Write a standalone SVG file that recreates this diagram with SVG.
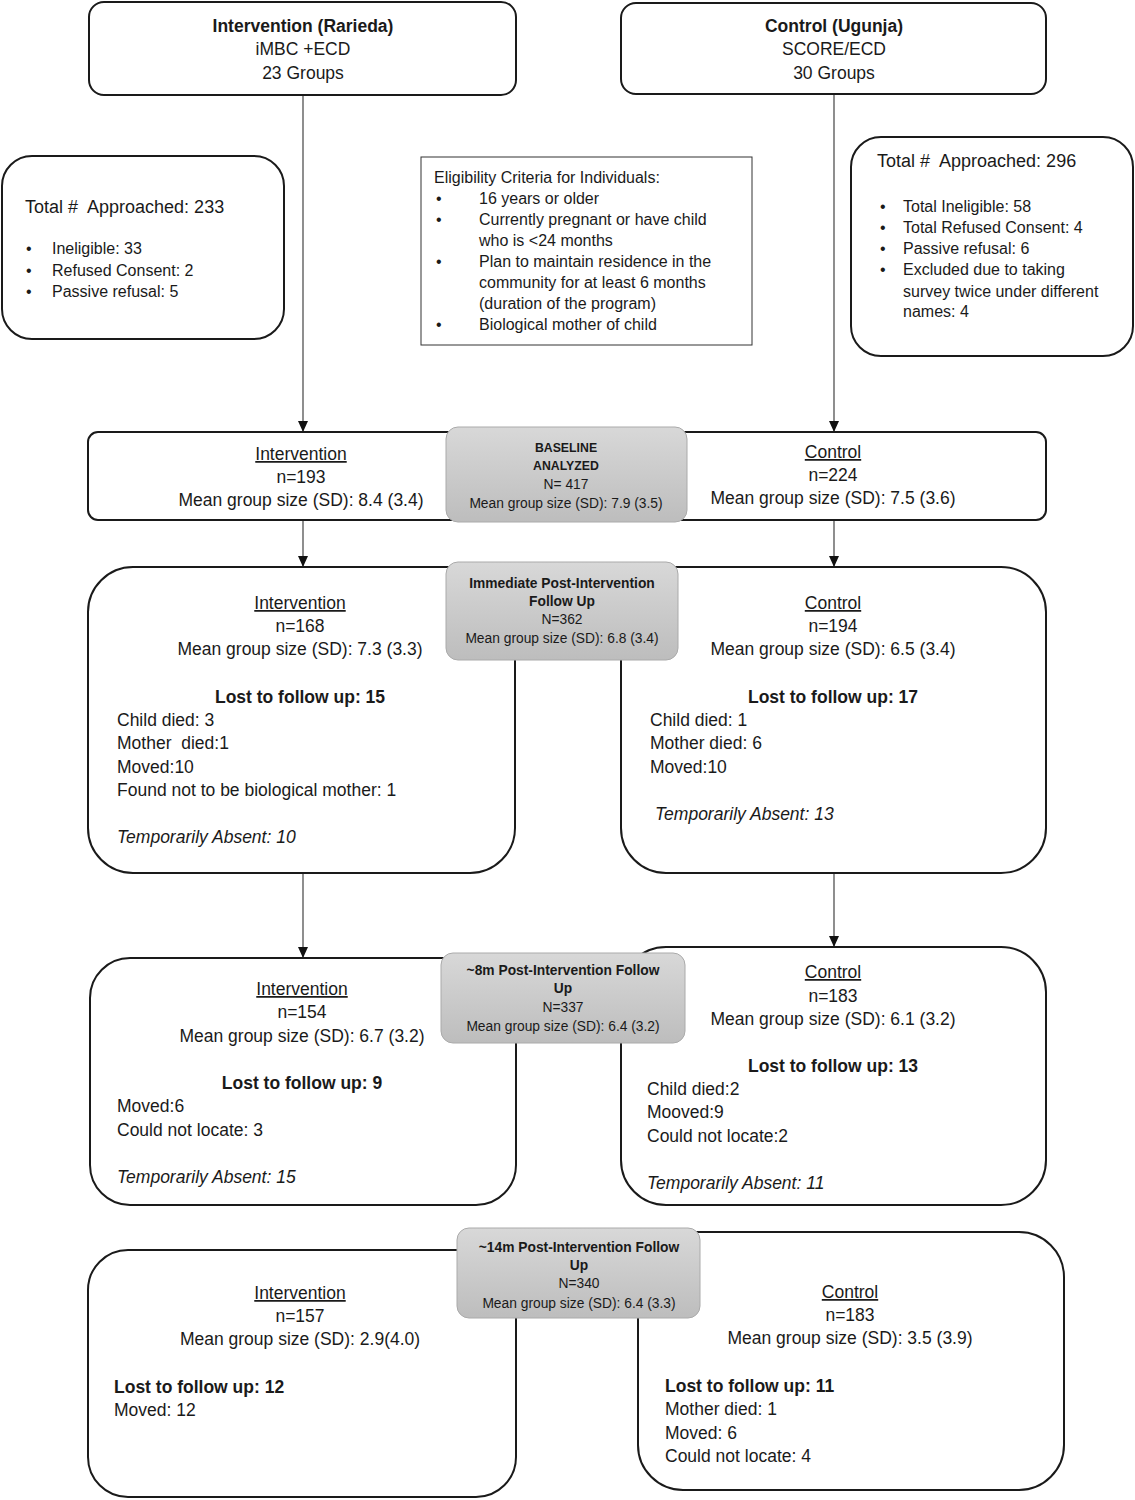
<svg xmlns="http://www.w3.org/2000/svg" width="1135" height="1500" viewBox="0 0 1135 1500">
<style>
text{font-family:"Liberation Sans",Arial,sans-serif;fill:#1a1a1a}
.box{fill:#fff;stroke:#1a1a1a;stroke-width:2}
.sq{fill:#fff;stroke:#333;stroke-width:1}
.gray{fill:url(#gg);stroke:#aaa;stroke-width:1}
.t{font-size:17.5px}
.h{font-size:18px}
.c{text-anchor:middle}
.b{font-weight:bold}
.i{font-style:italic}
.u{text-decoration:underline}
.e{font-size:16px}
.g{font-size:13.8px;text-anchor:middle}
.conn line{stroke:#444;stroke-width:1.2}
</style>
<defs>
<linearGradient id="gg" x1="0" y1="0" x2="0" y2="1">
<stop offset="0" stop-color="#d8d8d8"/>
<stop offset="1" stop-color="#bdbdbd"/>
</linearGradient>
<marker id="ad" markerWidth="10" markerHeight="11" refX="5" refY="11" markerUnits="userSpaceOnUse" viewBox="0 0 10 11">
<path d="M0,0 L10,0 L5,11 Z" fill="#111"/>
</marker>
</defs>

<g class="conn">
<line x1="303" y1="95" x2="303" y2="432" marker-end="url(#ad)"/>
<line x1="834" y1="94" x2="834" y2="432" marker-end="url(#ad)"/>
<line x1="303" y1="520" x2="303" y2="567" marker-end="url(#ad)"/>
<line x1="834" y1="520" x2="834" y2="567" marker-end="url(#ad)"/>
<line x1="303" y1="873" x2="303" y2="958" marker-end="url(#ad)"/>
<line x1="834" y1="873" x2="834" y2="947" marker-end="url(#ad)"/>
</g>

<g id="top-intervention">
<rect class="box" x="89" y="2" width="427" height="93" rx="15"/>
<text class="t c b" x="303" y="32">Intervention (Rarieda)</text>
<text class="t c" x="303" y="55">iMBC +ECD</text>
<text class="t c" x="303" y="79">23 Groups</text>
</g>

<g id="top-control">
<rect class="box" x="621" y="3" width="425" height="91" rx="15"/>
<text class="t c b" x="834" y="32">Control (Ugunja)</text>
<text class="t c" x="834" y="55">SCORE/ECD</text>
<text class="t c" x="834" y="79">30 Groups</text>
</g>

<g id="approached-left">
<rect class="box" x="2" y="156" width="282" height="183" rx="30"/>
<text class="h" x="25" y="213">Total #&#160; Approached: 233</text>
<text class="e" x="26" y="254">•</text><text class="e" x="52" y="254">Ineligible: 33</text>
<text class="e" x="26" y="276">•</text><text class="e" x="52" y="276">Refused Consent: 2</text>
<text class="e" x="26" y="297">•</text><text class="e" x="52" y="297">Passive refusal: 5</text>
</g>

<g id="eligibility">
<rect class="sq" x="421" y="157" width="331" height="188"/>
<text class="e" x="434" y="183">Eligibility Criteria for Individuals:</text>
<text class="e" x="436" y="204">•</text><text class="e" x="479" y="204">16 years or older</text>
<text class="e" x="436" y="225">•</text><text class="e" x="479" y="225">Currently pregnant or have child</text>
<text class="e" x="479" y="246">who is &lt;24 months</text>
<text class="e" x="436" y="267">•</text><text class="e" x="479" y="267">Plan to maintain residence in the</text>
<text class="e" x="479" y="288">community for at least 6 months</text>
<text class="e" x="479" y="309">(duration of the program)</text>
<text class="e" x="436" y="330">•</text><text class="e" x="479" y="330">Biological mother of child</text>
</g>

<g id="approached-right">
<rect class="box" x="851" y="137" width="282" height="219" rx="30"/>
<text class="h" x="877" y="167">Total #&#160; Approached: 296</text>
<text class="e" x="880" y="212">•</text><text class="e" x="903" y="212">Total Ineligible: 58</text>
<text class="e" x="880" y="233">•</text><text class="e" x="903" y="233">Total Refused Consent: 4</text>
<text class="e" x="880" y="254">•</text><text class="e" x="903" y="254">Passive refusal: 6</text>
<text class="e" x="880" y="275">•</text><text class="e" x="903" y="275">Excluded due to taking</text>
<text class="e" x="903" y="297">survey twice under different</text>
<text class="e" x="903" y="317">names: 4</text>
</g>

<g id="baseline-intervention">
<rect class="box" x="88" y="432" width="400" height="88" rx="10"/>
<text class="t c u" x="301" y="460">Intervention</text>
<text class="t c" x="301" y="483">n=193</text>
<text class="t c" x="301" y="506">Mean group size (SD): 8.4 (3.4)</text>
</g>
<g id="baseline-control">
<rect class="box" x="640" y="432" width="406" height="88" rx="10"/>
<text class="t c u" x="833" y="458">Control</text>
<text class="t c" x="833" y="481">n=224</text>
<text class="t c" x="833" y="504">Mean group size (SD): 7.5 (3.6)</text>
</g>
<g id="baseline-analyzed">
<rect class="gray" x="446" y="427" width="241" height="95" rx="12"/>
<text class="g b" x="566" y="452" style="font-size:12.3px">BASELINE</text>
<text class="g b" x="566" y="470" style="font-size:12.3px">ANALYZED</text>
<text class="g" x="566" y="489">N= 417</text>
<text class="g" x="566" y="508">Mean group size (SD): 7.9 (3.5)</text>
</g>

<g id="immediate-intervention">
<rect class="box" x="88" y="567" width="427" height="306" rx="45"/>
<text class="t c u" x="300" y="609">Intervention</text>
<text class="t c" x="300" y="632">n=168</text>
<text class="t c" x="300" y="655">Mean group size (SD): 7.3 (3.3)</text>
<text class="t c b" x="300" y="703">Lost to follow up: 15</text>
<text class="t" x="117" y="726">Child died: 3</text>
<text class="t" x="117" y="749">Mother&#160; died:1</text>
<text class="t" x="117" y="773">Moved:10</text>
<text class="t" x="117" y="796">Found not to be biological mother: 1</text>
<text class="t i" x="117" y="843">Temporarily Absent: 10</text>
</g>
<g id="immediate-control">
<rect class="box" x="621" y="567" width="425" height="306" rx="45"/>
<text class="t c u" x="833" y="609">Control</text>
<text class="t c" x="833" y="632">n=194</text>
<text class="t c" x="833" y="655">Mean group size (SD): 6.5 (3.4)</text>
<text class="t c b" x="833" y="703">Lost to follow up: 17</text>
<text class="t" x="650" y="726">Child died: 1</text>
<text class="t" x="650" y="749">Mother died: 6</text>
<text class="t" x="650" y="773">Moved:10</text>
<text class="t i" x="655" y="820">Temporarily Absent: 13</text>
</g>
<g id="immediate-followup">
<rect class="gray" x="446" y="562" width="232" height="98" rx="12"/>
<text class="g b" x="562" y="588">Immediate Post-Intervention</text>
<text class="g b" x="562" y="606">Follow Up</text>
<text class="g" x="562" y="624">N=362</text>
<text class="g" x="562" y="643">Mean group size (SD): 6.8 (3.4)</text>
</g>

<g id="m8-intervention">
<rect class="box" x="90" y="958" width="426" height="247" rx="40"/>
<text class="t c u" x="302" y="995">Intervention</text>
<text class="t c" x="302" y="1018">n=154</text>
<text class="t c" x="302" y="1042">Mean group size (SD): 6.7 (3.2)</text>
<text class="t c b" x="302" y="1089">Lost to follow up: 9</text>
<text class="t" x="117" y="1112">Moved:6</text>
<text class="t" x="117" y="1136">Could not locate: 3</text>
<text class="t i" x="117" y="1183">Temporarily Absent: 15</text>
</g>
<g id="m8-control">
<rect class="box" x="621" y="947" width="425" height="258" rx="45"/>
<text class="t c u" x="833" y="978">Control</text>
<text class="t c" x="833" y="1002">n=183</text>
<text class="t c" x="833" y="1025">Mean group size (SD): 6.1 (3.2)</text>
<text class="t c b" x="833" y="1072">Lost to follow up: 13</text>
<text class="t" x="647" y="1095">Child died:2</text>
<text class="t" x="647" y="1118">Mooved:9</text>
<text class="t" x="647" y="1142">Could not locate:2</text>
<text class="t i" x="647" y="1189">Temporarily Absent: 11</text>
</g>
<g id="m8-followup">
<rect class="gray" x="441" y="953" width="244" height="90" rx="12"/>
<text class="g b" x="563" y="975">~8m Post-Intervention Follow</text>
<text class="g b" x="563" y="993">Up</text>
<text class="g" x="563" y="1012">N=337</text>
<text class="g" x="563" y="1031">Mean group size (SD): 6.4 (3.2)</text>
</g>

<g id="m14-intervention">
<rect class="box" x="88" y="1250" width="428" height="247" rx="40"/>
<text class="t c u" x="300" y="1299">Intervention</text>
<text class="t c" x="300" y="1322">n=157</text>
<text class="t c" x="300" y="1345">Mean group size (SD): 2.9(4.0)</text>
<text class="t b" x="114" y="1393">Lost to follow up: 12</text>
<text class="t" x="114" y="1416">Moved: 12</text>
</g>
<g id="m14-control">
<rect class="box" x="638" y="1232" width="426" height="258" rx="45"/>
<text class="t c u" x="850" y="1298">Control</text>
<text class="t c" x="850" y="1321">n=183</text>
<text class="t c" x="850" y="1344">Mean group size (SD): 3.5 (3.9)</text>
<text class="t b" x="665" y="1392">Lost to follow up: 11</text>
<text class="t" x="665" y="1415">Mother died: 1</text>
<text class="t" x="665" y="1439">Moved: 6</text>
<text class="t" x="665" y="1462">Could not locate: 4</text>
</g>
<g id="m14-followup">
<rect class="gray" x="457" y="1228" width="243" height="90" rx="12"/>
<text class="g b" x="579" y="1252">~14m Post-Intervention Follow</text>
<text class="g b" x="579" y="1270">Up</text>
<text class="g" x="579" y="1288">N=340</text>
<text class="g" x="579" y="1308">Mean group size (SD): 6.4 (3.3)</text>
</g>
</svg>
